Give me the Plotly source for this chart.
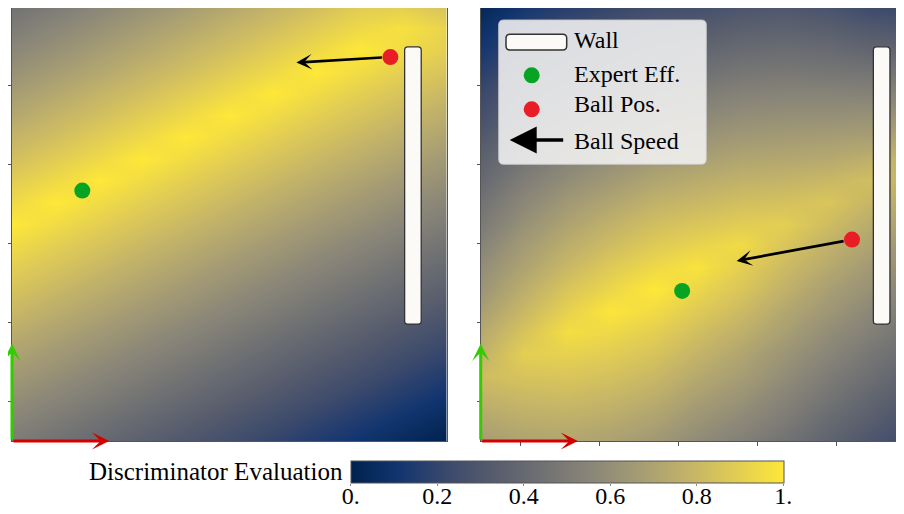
import plotly.graph_objects as go

# ---- data -------------------------------------------------------------
# evaluation grid nodes (same for both panels), rows go bottom -> top
grid_x = [0.0, 0.55, 1.1, 1.65, 2.2, 2.75, 3.3, 3.85, 4.4, 4.95, 5.5]
grid_y = [0.0, 0.275, 0.55, 0.825, 1.1, 1.375, 1.65, 1.925, 2.2, 2.475, 2.75,
          3.025, 3.3, 3.575, 3.85, 4.125, 4.4, 4.675, 4.95, 5.225, 5.5]

eval_left = [
    [0.50, 0.45, 0.40, 0.35, 0.30, 0.25, 0.20, 0.15, 0.10, 0.05, 0.00],
    [0.55, 0.50, 0.45, 0.40, 0.35, 0.30, 0.25, 0.20, 0.15, 0.10, 0.05],
    [0.60, 0.55, 0.50, 0.45, 0.40, 0.35, 0.30, 0.25, 0.20, 0.15, 0.10],
    [0.65, 0.60, 0.55, 0.50, 0.45, 0.40, 0.35, 0.30, 0.25, 0.20, 0.15],
    [0.70, 0.65, 0.60, 0.55, 0.50, 0.45, 0.40, 0.35, 0.30, 0.25, 0.20],
    [0.75, 0.70, 0.65, 0.60, 0.55, 0.50, 0.45, 0.40, 0.35, 0.30, 0.25],
    [0.80, 0.75, 0.70, 0.65, 0.60, 0.55, 0.50, 0.45, 0.40, 0.35, 0.30],
    [0.85, 0.80, 0.75, 0.70, 0.65, 0.60, 0.55, 0.50, 0.45, 0.40, 0.35],
    [0.90, 0.85, 0.80, 0.75, 0.70, 0.65, 0.60, 0.55, 0.50, 0.45, 0.40],
    [0.95, 0.90, 0.85, 0.80, 0.75, 0.70, 0.65, 0.60, 0.55, 0.50, 0.45],
    [1.00, 0.95, 0.90, 0.85, 0.80, 0.75, 0.70, 0.65, 0.60, 0.55, 0.50],
    [0.94, 1.00, 0.95, 0.90, 0.85, 0.80, 0.75, 0.70, 0.65, 0.60, 0.55],
    [0.89, 0.94, 1.00, 0.95, 0.90, 0.85, 0.80, 0.75, 0.70, 0.65, 0.60],
    [0.83, 0.89, 0.94, 1.00, 0.95, 0.90, 0.85, 0.80, 0.75, 0.70, 0.65],
    [0.78, 0.83, 0.89, 0.94, 1.00, 0.95, 0.90, 0.85, 0.80, 0.75, 0.70],
    [0.72, 0.78, 0.83, 0.89, 0.94, 1.00, 0.95, 0.90, 0.85, 0.80, 0.75],
    [0.67, 0.72, 0.78, 0.83, 0.89, 0.94, 1.00, 0.95, 0.90, 0.85, 0.80],
    [0.61, 0.67, 0.72, 0.78, 0.83, 0.89, 0.94, 1.00, 0.95, 0.90, 0.85],
    [0.56, 0.61, 0.67, 0.72, 0.78, 0.83, 0.89, 0.94, 1.00, 0.95, 0.90],
    [0.50, 0.56, 0.61, 0.67, 0.72, 0.78, 0.83, 0.89, 0.94, 0.97, 0.92],
    [0.45, 0.50, 0.56, 0.61, 0.67, 0.72, 0.78, 0.83, 0.89, 0.90, 0.85],
]

eval_right = [
    [0.67, 0.70, 0.71, 0.69, 0.65, 0.58, 0.52, 0.45, 0.37, 0.29, 0.22],
    [0.72, 0.75, 0.76, 0.74, 0.70, 0.63, 0.57, 0.50, 0.41, 0.34, 0.26],
    [0.77, 0.80, 0.81, 0.79, 0.75, 0.68, 0.62, 0.54, 0.46, 0.38, 0.31],
    [0.82, 0.85, 0.86, 0.84, 0.80, 0.73, 0.67, 0.59, 0.50, 0.43, 0.35],
    [0.77, 0.90, 0.91, 0.89, 0.85, 0.78, 0.71, 0.63, 0.55, 0.47, 0.40],
    [0.73, 0.85, 0.96, 0.94, 0.90, 0.83, 0.76, 0.68, 0.59, 0.52, 0.44],
    [0.68, 0.80, 0.91, 0.99, 0.95, 0.88, 0.81, 0.72, 0.64, 0.56, 0.49],
    [0.63, 0.75, 0.86, 0.93, 1.00, 0.93, 0.86, 0.77, 0.68, 0.61, 0.53],
    [0.59, 0.70, 0.80, 0.88, 0.94, 0.98, 0.90, 0.81, 0.73, 0.65, 0.58],
    [0.54, 0.66, 0.75, 0.82, 0.88, 0.92, 0.95, 0.86, 0.77, 0.70, 0.62],
    [0.49, 0.61, 0.70, 0.77, 0.83, 0.86, 0.89, 0.90, 0.82, 0.74, 0.67],
    [0.45, 0.56, 0.65, 0.71, 0.77, 0.80, 0.83, 0.84, 0.86, 0.79, 0.71],
    [0.40, 0.51, 0.59, 0.65, 0.71, 0.74, 0.77, 0.78, 0.80, 0.83, 0.76],
    [0.36, 0.46, 0.54, 0.60, 0.65, 0.68, 0.71, 0.72, 0.73, 0.76, 0.80],
    [0.31, 0.41, 0.49, 0.54, 0.59, 0.62, 0.65, 0.66, 0.67, 0.68, 0.72],
    [0.26, 0.36, 0.44, 0.49, 0.54, 0.56, 0.59, 0.60, 0.60, 0.61, 0.63],
    [0.22, 0.31, 0.38, 0.43, 0.48, 0.50, 0.53, 0.54, 0.54, 0.53, 0.55],
    [0.17, 0.26, 0.33, 0.37, 0.42, 0.44, 0.47, 0.48, 0.47, 0.46, 0.46],
    [0.12, 0.21, 0.28, 0.32, 0.36, 0.38, 0.41, 0.42, 0.41, 0.38, 0.38],
    [0.08, 0.17, 0.23, 0.26, 0.30, 0.32, 0.35, 0.36, 0.34, 0.31, 0.29],
    [0.03, 0.12, 0.17, 0.21, 0.25, 0.26, 0.29, 0.30, 0.28, 0.23, 0.21],
]

# scene objects per panel: [left, right]
expert_x = [0.89, 2.55]
expert_y = [3.17, 1.90]
ball_x = [4.79, 4.70]
ball_y = [4.86, 2.55]
speed_tip_x = [3.60, 3.24]
speed_tip_y = [4.79, 2.28]
wall_x = [4.97, 5.18]
wall_y = [1.48, 4.99]
frame_arrow_len = 1.23

axis_ticks = [0.5, 1.5, 2.5, 3.5, 4.5]
cbar_vals = [0, 0.2, 0.4, 0.6, 0.8, 1.0]
cbar_text = ["0.", "0.2", "0.4", "0.6", "0.8", "1."]
legend_names = ["Wall", "Expert Eff.", "Ball Pos.", "Ball Speed"]

# ---- figure -------------------------------------------------------------
W, H = 904, 514
OFF = 8  # page body margin, layout below is given in screen pixels
SERIF = "Liberation Serif, Times New Roman, serif"
GREEN = "#06a422"
RED = "#e81d25"


def px(x):
    return min(max((x - OFF) / W, 0), 1)


def py(y):
    return min(max(1 - (y - OFF) / H, 0), 1)


def rounded_rect(x0, x1, y0, y1, rx, ry):
    return (f"M{x0+rx},{y0} L{x1-rx},{y0} Q{x1},{y0} {x1},{y0+ry} "
            f"L{x1},{y1-ry} Q{x1},{y1} {x1-rx},{y1} L{x0+rx},{y1} "
            f"Q{x0},{y1} {x0},{y1-ry} L{x0},{y0+ry} Q{x0},{y0} {x0+rx},{y0} Z")


fig = go.Figure()

panels = [("x", "y", eval_left), ("x2", "y2", eval_right)]
for k, (xa, ya, z) in enumerate(panels):
    fig.add_trace(go.Heatmap(
        x=grid_x, y=grid_y, z=z, zsmooth="best",
        coloraxis="coloraxis", xaxis=xa, yaxis=ya, hoverinfo="skip"
    ))
    fig.add_trace(go.Scatter(
        x=[expert_x[k]], y=[expert_y[k]], mode="markers",
        marker=dict(size=16, color=GREEN), xaxis=xa, yaxis=ya,
        showlegend=False
    ))
    fig.add_trace(go.Scatter(
        x=[ball_x[k]], y=[ball_y[k]], mode="markers",
        marker=dict(size=16, color=RED), xaxis=xa, yaxis=ya,
        showlegend=False
    ))

    # wall
    fig.add_shape(
        type="path", xref=xa, yref=ya, layer="above",
        path=rounded_rect(wall_x[0], wall_x[1], wall_y[0], wall_y[1], 0.04, 0.04),
        fillcolor="#fbfaf7", line=dict(color="#333333", width=1.3)
    )

    # ball speed
    fig.add_annotation(
        x=speed_tip_x[k], y=speed_tip_y[k], ax=ball_x[k], ay=ball_y[k],
        xref=xa, yref=ya, axref=xa, ayref=ya, text="", showarrow=True,
        arrowhead=3, arrowsize=1.0, arrowwidth=2.6, arrowcolor="black",
        startstandoff=7
    )

    # frame arrows
    fig.add_annotation(
        x=0, y=frame_arrow_len, ax=0, ay=0, xref=xa, yref=ya, axref=xa, ayref=ya,
        text="", showarrow=True, arrowhead=3, arrowsize=0.95, arrowwidth=3,
        arrowcolor="#33cc00"
    )
    fig.add_annotation(
        x=frame_arrow_len, y=0, ax=0, ay=0, xref=xa, yref=ya, axref=xa, ayref=ya,
        text="", showarrow=True, arrowhead=3, arrowsize=0.95, arrowwidth=3,
        arrowcolor="#d40000"
    )

# empty trace so the colourbar's tick axis gets drawn
fig.add_trace(go.Scatter(x=[], y=[], xaxis="x3", yaxis="y3", showlegend=False))

# ---- legend (drawn by hand on the right panel) ----
fig.add_shape(
    type="path", xref="paper", yref="paper", layer="above",
    path=rounded_rect(px(498.7), px(706.3), py(164.3), py(20), 5 / W, 5 / H),
    fillcolor="rgba(242,242,242,0.88)", line=dict(color="rgba(200,200,200,0.9)", width=1)
)
fig.add_shape(
    type="path", xref="paper", yref="paper", layer="above",
    path=rounded_rect(px(506), px(566.7), py(50), py(34.3), 4 / W, 4 / H),
    fillcolor="#fbfaf7", line=dict(color="#333333", width=1.5)
)
for cy, col in [(75.3, GREEN), (109.3, RED)]:
    fig.add_shape(
        type="circle", xref="paper", yref="paper", layer="above",
        x0=px(531.7 - 8), x1=px(531.7 + 8), y0=py(cy + 8), y1=py(cy - 8),
        fillcolor=col, line=dict(width=0)
    )
fig.add_annotation(
    x=px(509.7), y=py(140), xref="paper", yref="paper", ax=55, ay=0,
    text="", showarrow=True, arrowhead=2, arrowsize=1.5, arrowwidth=3.6,
    arrowcolor="black"
)
for name, cy in zip(legend_names, [39.7, 73.7, 104.0, 140.7]):
    fig.add_annotation(
        x=px(572), y=py(cy), xref="paper", yref="paper", text=name,
        showarrow=False, xanchor="left", yanchor="middle",
        font=dict(family=SERIF, size=24, color="black")
    )

fig.add_annotation(
    x=px(345), y=py(471), xref="paper", yref="paper",
    text="Discriminator Evaluation", showarrow=False,
    xanchor="right", yanchor="middle",
    font=dict(family=SERIF, size=25, color="black")
)

frame = dict(showline=True, linecolor="#555555", linewidth=1, mirror=True,
             showgrid=False, zeroline=False, showticklabels=False)

cbar_x0, cbar_x1 = 350.7, 783.3
cbar_top, cbar_bottom = 461, 482.7
panel_top, panel_bottom = 8, 441
y_top = (panel_bottom - panel_top) / 79  # 79 px per unit

fig.update_layout(
    width=W, height=H,
    margin=dict(l=0, r=0, t=0, b=0, autoexpand=False),
    paper_bgcolor="white", plot_bgcolor="white",
    showlegend=False,
    xaxis=dict(domain=[px(12), px(446.5)], range=[0, 5.5], ticks="", anchor="y", **frame),
    yaxis=dict(domain=[py(panel_bottom), py(panel_top)], range=[0, y_top], anchor="x",
               ticks="outside", ticklen=3, tickcolor="#555555", tickvals=axis_ticks, **frame),
    xaxis2=dict(domain=[px(480.7), px(904)], range=[0, 5.358], anchor="y2",
                ticks="outside", ticklen=4, tickcolor="#555555", tickvals=axis_ticks, **frame),
    yaxis2=dict(domain=[py(panel_bottom), py(panel_top)], range=[0, y_top], anchor="x2",
                ticks="outside", ticklen=3, tickcolor="#555555", tickvals=axis_ticks, **frame),
    xaxis3=dict(domain=[px(cbar_x0), px(cbar_x1)], range=[0, 1], anchor="y3",
                showline=False, showgrid=False, zeroline=False,
                ticks="outside", ticklen=2, tickcolor="#888888",
                tickvals=cbar_vals, ticktext=cbar_text, ticklabelstandoff=-11,
                tickfont=dict(family=SERIF, size=24, color="black")),
    yaxis3=dict(domain=[py(cbar_bottom), py(cbar_top)], anchor="x3", visible=False),
    coloraxis=dict(
        colorscale="cividis", cmin=0, cmax=1,
        colorbar=dict(
            orientation="h", x=px(cbar_x0), xanchor="left",
            len=(cbar_x1 - cbar_x0) / W, lenmode="fraction", xpad=0,
            y=py(cbar_top), yanchor="top", ypad=0,
            thickness=cbar_bottom - cbar_top, outlinewidth=1, outlinecolor="#555555",
            ticks="", showticklabels=False
        )
    ),
)

fig.write_html("out.html")
